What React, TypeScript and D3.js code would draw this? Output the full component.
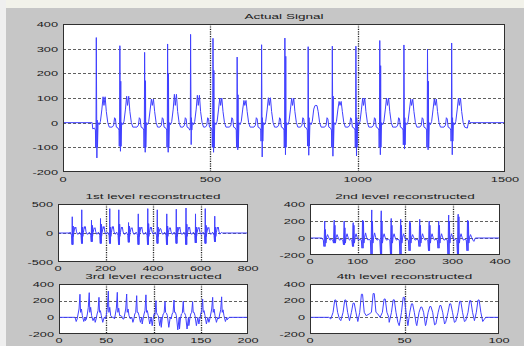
import React from 'react';
import * as d3 from 'd3';

const W = 524;
const H = 346;

// ---------- Actual signal ----------
const mainXTicks = [0, 500, 1000, 1500];
const mainYTicks = [-200, -100, 0, 100, 200, 300, 400];
const mainPos = [113, 193, 277, 355, 433, 509, 591, 674, 753, 832, 914, 994, 1075, 1157, 1237, 1319];
const mainR = [345, 312, 285, 319, 358, 342, 266, 316, 343, 308, 310, 310, 333, 315, 298, 323];
const mainR2 = [10, 168, 170, 199, 20, 212, 113, 20, 269, 20, 107, 20, 231, 20, 168, 20];
const mainS = [-143, -116, -120, -120, -89, -120, -110, -139, -130, -132, -136, -135, -130, -107, -110, -130];
const mainQ = [-100, -96, -100, -100, -30, -100, -100, -75, -100, -95, -100, -100, -100, -90, -100, -75];
const mainT = [105, 107, 96, 115, 111, 100, 90, 101, 99, 69, 86, 100, 100, 95, 96, 100];
const mainShape: [number, number | string][] = [
  [-26, -18], [-21, -10], [-18, 20], [-15, 15], [-12, -18], [-6, -22], [-3, -30], [-2, 'Q'], [-1, -25],
  [0, 'R'], [2, 'S'], [3, 'R2'], [4, 'Q'], [6, 0], [10, -8], [14, 5], [19, 55], [23, 'T'], [26, 70],
  [30, 'T'], [34, 45], [39, 0], [44, -18],
];
const mainLead: [number, number][] = [[0, 0], [99, 0], [101, -25]];
const mainTail: [number, number][] = [[1372, -22], [1378, 10], [1381, 0], [1500, 0]];

// ---------- 1st level ----------
const l1XTicks = [0, 200, 400, 600, 800];
const l1YTicks = [-500, 0, 500];
const l1Pos = [60, 100, 141, 179, 218, 256, 297, 338, 378, 418, 458, 498, 539, 579, 620, 660];
const l1Pk = [280, 400, 220, 250, 420, 400, 180, 330, 420, 400, 330, 410, 430, 330, 420, 290];
const l1Hi = [120, 100, 130, 150, 100, 150, 120, 100, 160, 100, 120, 100, 150, 100, 130, 100];
const l1Lo = [-200, -180, -150, -180, -180, -200, -160, -200, -200, -180, -200, -180, -200, -170, -180, -150];
const l1T = [100, 110, 90, 110, 110, 100, 90, 100, 100, 70, 90, 100, 100, 95, 95, 100];
const l1Shape: [number, number | string][] = [
  [-13, -15], [-9, 15], [-6, -10], [-3, -40], [-1, 'lo'], [0, 'pk'], [1, 'lo'], [2, 'hi'], [3, 'lo'],
  [3.7, 'hi'], [4.4, -60], [7, 10], [11, 'T'], [13, 80], [15, 'T'], [18, 20], [22, -20],
];
const l1Lead: [number, number][] = [[0, 0], [50, 0]];
const l1Tail: [number, number][] = [[688, 10], [692, 0], [800, 0]];

// ---------- 2nd level ----------
const l2XTicks = [0, 100, 200, 300, 400];
const l2YTicks = [-200, 0, 200, 400];
const l2Pos = [31, 51, 72, 91, 111, 130, 150, 171, 191, 210, 231, 251, 271, 292, 312, 332];
const l2Pk = [200, 210, 200, 180, 210, 330, 320, 230, 220, 200, 220, 200, 200, 270, 280, 210];
const l2Hi = [100, 150, 120, 150, 200, 200, 200, 150, 150, 180, 150, 150, 150, 200, 250, 200];
const l2Lo = [-100, -60, -80, -100, -120, -200, -200, -200, -200, -150, -100, -150, -120, -200, -200, -150];
const l2T = [40, 40, 50, 50, 60, 60, 50, 50, 50, 40, 50, 50, 50, 50, 50, 40];
const l2Shape: [number, number | string][] = [
  [-6, -15], [-3, -25], [-1.5, 'lo'], [-0.5, 'hi'], [0, 'pk'], [0.7, 'lo'], [1.5, 'hi'], [2.5, -60],
  [4, 10], [6, 'T'], [8, 10], [11, -25],
];
const l2Lead: [number, number][] = [[0, 0], [25, 0]];
const l2Tail: [number, number][] = [[342, -10], [345, -40], [348, 0], [400, 0]];

// ---------- 3rd level ----------
const l3XTicks = [0, 50, 100, 150, 200];
const l3YTicks = [-200, 0, 200, 400];
const l3Pos = [22.2, 32, 42.3, 52.2, 61.7, 71.6, 82.2, 92, 102.6, 112.2, 121.7, 131.5, 141.4, 152, 162.6, 172.1];
const l3Pk = [277, 296, 240, 315, 300, 280, 260, 270, 200, 190, 208, 195, 190, 220, 240, 246];
const l3Hi = [100, 120, 80, 120, 110, 100, 60, 80, 30, 50, 60, 50, 60, 80, 100, 90];
const l3Lo = [-50, -40, -60, 0, 20, -20, -60, -80, -100, -120, -150, -140, -100, -80, -60, -50];
const l3Shape: [number, number | string][] = [
  [-4, 'lo'], [-3, -20], [-2, 40], [-1, 'hi'], [0, 'pk'], [0.6, 60], [1.5, 'hi'], [2.5, 20], [4, 'lo'], [5.5, 0],
];
const l3Lead: [number, number][] = [[0, 0], [17, 0]];
const l3Tail: [number, number][] = [[178, -30], [180, 0], [200, 0]];

// ---------- 4th level ----------
const l4XTicks = [0, 50, 100];
const l4YTicks = [-200, 0, 200, 400];
const l4Pos = [13.4, 18.7, 23.1, 27.5, 33.7, 39.5, 44.3, 49.6, 54, 58.9, 63.7, 69, 74.2, 79.5, 84.8, 89.2];
const l4Pk = [208, 208, 170, 277, 285, 220, 210, 240, 162, 123, 130, 142, 162, 192, 200, 208];
const l4Lo = [-20, -40, -50, 20, 40, 0, -60, -100, -80, -100, -90, -80, -60, -50, -40, -50];
const l4Shape: [number, number | string][] = [
  [-2.4, 'lo'], [-1.2, 60], [-0.3, 'pk'], [0.3, 'pk'], [1.2, 60], [2.2, 'lo'],
];
const l4Lead: [number, number][] = [[0, 0], [10, 0]];
const l4Tail: [number, number][] = [[92, -30], [93, 0], [100, 0]];

function build(
  lead: [number, number][],
  pos: number[],
  vals: Record<string, number[]>,
  shape: [number, number | string][],
  tail: [number, number][],
): [number, number][] {
  const pts: [number, number][] = [...lead];
  pos.forEach((p, i) => {
    shape.forEach(([o, v]) => {
      const x = p + o;
      if (x <= pts[pts.length - 1][0]) return;
      const y = typeof v === 'number' ? v : vals[v][i];
      pts.push([x, y]);
    });
  });
  tail.forEach((t) => {
    if (t[0] > pts[pts.length - 1][0]) pts.push(t);
  });
  return pts;
}

const FONT = "'Liberation Sans', Arial, sans-serif";
const TXT = '#202020';

type PanelProps = {
  id: string;
  left: number;
  top: number;
  right: number;
  bottom: number;
  xDomain: [number, number];
  yDomain: [number, number];
  xTicks: number[];
  yTicks: number[];
  title: string;
  data: [number, number][];
  fs: number;
  sx: number;
  xLabOff: number;
  titleOff: number;
};

function Panel(p: PanelProps) {
  const x = d3.scaleLinear().domain(p.xDomain).range([p.left, p.right]);
  const y = d3.scaleLinear().domain(p.yDomain).range([p.bottom, p.top]);
  const line = d3
    .line<[number, number]>()
    .x((d) => x(d[0]))
    .y((d) => y(d[1]));
  const cx = (p.left + p.right) / 2;
  return (
    <g>
      <defs>
        <clipPath id={p.id}>
          <rect x={p.left} y={p.top} width={p.right - p.left} height={p.bottom - p.top} />
        </clipPath>
      </defs>
      <rect x={p.left} y={p.top} width={p.right - p.left} height={p.bottom - p.top} fill="#ffffff" />
      {p.yTicks
        .filter((t) => t !== p.yDomain[0] && t !== p.yDomain[1])
        .map((t) => (
          <line
            key={'gy' + t}
            x1={p.left}
            x2={p.right}
            y1={Math.round(y(t)) + 0.5}
            y2={Math.round(y(t)) + 0.5}
            stroke="#606060"
            strokeWidth={1}
            strokeDasharray="3,2"
          />
        ))}
      {p.xTicks
        .filter((t) => t !== p.xDomain[0] && t !== p.xDomain[1])
        .map((t) => (
          <line
            key={'gx' + t}
            x1={Math.round(x(t)) + 0.5}
            x2={Math.round(x(t)) + 0.5}
            y1={p.top}
            y2={p.bottom}
            stroke="#202020"
            strokeWidth={1.3}
            strokeDasharray="1.2,1.2"
          />
        ))}
      <path d={line(p.data) || ''} fill="none" stroke="#4040ff" strokeWidth={1} clipPath={`url(#${p.id})`} />
      <rect
        x={p.left + 0.5}
        y={p.top + 0.5}
        width={p.right - p.left - 1}
        height={p.bottom - p.top - 1}
        fill="none"
        stroke="#303030"
        strokeWidth={1}
      />
      {p.yTicks.map((t) => (
        <text
          key={'ly' + t}
          transform={`translate(${p.left - 5},${y(t) + p.fs * 0.36}) scale(${p.sx},1)`}
          textAnchor="end"
          fontFamily={FONT}
          fontSize={p.fs}
          fill={TXT}
        >
          {t}
        </text>
      ))}
      {p.xTicks.map((t) => (
        <text
          key={'lx' + t}
          transform={`translate(${x(t)},${p.bottom + p.xLabOff}) scale(${p.sx},1)`}
          textAnchor="middle"
          fontFamily={FONT}
          fontSize={p.fs}
          fill={TXT}
        >
          {t}
        </text>
      ))}
      <text
        transform={`translate(${cx},${p.top - p.titleOff}) scale(${p.sx * 1.06},1)`}
        textAnchor="middle"
        fontFamily={FONT}
        fontSize={p.fs}
        fill={TXT}
      >
        {p.title}
      </text>
    </g>
  );
}

export default function App() {
  const mainData = build(mainLead, mainPos, { R: mainR, R2: mainR2, S: mainS, Q: mainQ, T: mainT }, mainShape, mainTail);
  const l1Data = build(l1Lead, l1Pos, { pk: l1Pk, hi: l1Hi, lo: l1Lo, T: l1T }, l1Shape, l1Tail);
  const l2Data = build(l2Lead, l2Pos, { pk: l2Pk, hi: l2Hi, lo: l2Lo, T: l2T }, l2Shape, l2Tail);
  const l3Data = build(l3Lead, l3Pos, { pk: l3Pk, hi: l3Hi, lo: l3Lo }, l3Shape, l3Tail);
  const l4Data = build(l4Lead, l4Pos, { pk: l4Pk, lo: l4Lo }, l4Shape, l4Tail);
  const sub = { fs: 7.5, sx: 1.7, xLabOff: 8.5, titleOff: 5 };
  return (
    <svg
      width={W}
      height={H}
      viewBox={`0 0 ${W} ${H}`}
      style={{ position: 'absolute', left: 0, top: 0, display: 'block' }}
    >
      <rect x={0} y={0} width={W} height={H} fill="#c6c6c6" />
      <rect x={0} y={0} width={W} height={8} fill="#f2f2ea" />
      <rect x={0} y={0} width={6} height={H} fill="#efefef" />
      <Panel id="c0" left={63} top={24} right={505} bottom={172} xDomain={[0, 1500]} yDomain={[-200, 400]}
        xTicks={mainXTicks} yTicks={mainYTicks} title="Actual Signal" data={mainData}
        fs={8} sx={1.6} xLabOff={10} titleOff={5.5} />
      <Panel id="c1" left={58} top={204} right={248} bottom={262} xDomain={[0, 800]} yDomain={[-500, 500]}
        xTicks={l1XTicks} yTicks={l1YTicks} title="1st level reconstructed" data={l1Data} {...sub} />
      <Panel id="c2" left={310} top={204} right={500} bottom={255} xDomain={[0, 400]} yDomain={[-200, 400]}
        xTicks={l2XTicks} yTicks={l2YTicks} title="2nd level reconstructed" data={l2Data} {...sub} />
      <Panel id="c3" left={59} top={284} right={248} bottom={334} xDomain={[0, 200]} yDomain={[-200, 400]}
        xTicks={l3XTicks} yTicks={l3YTicks} title="3rd level reconstructed" data={l3Data} {...sub} />
      <Panel id="c4" left={310} top={284} right={499} bottom={334} xDomain={[0, 100]} yDomain={[-200, 400]}
        xTicks={l4XTicks} yTicks={l4YTicks} title="4th level reconstructed" data={l4Data} {...sub} />
    </svg>
  );
}
